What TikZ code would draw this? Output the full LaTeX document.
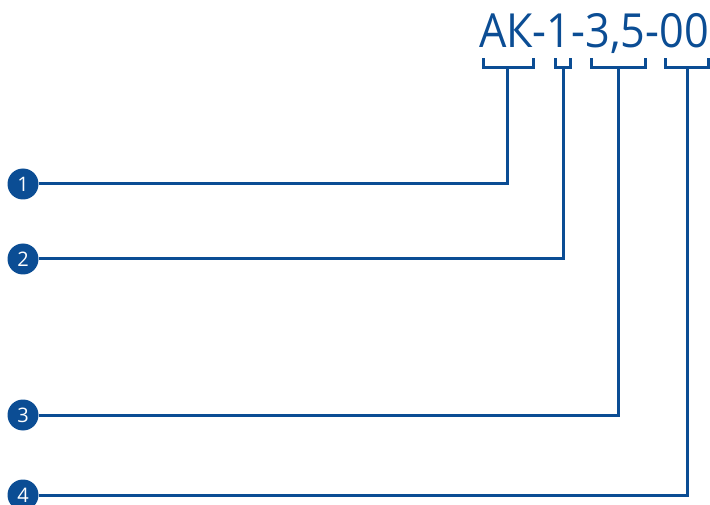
\documentclass[tikz,border=0pt]{standalone}
\usepackage{fontspec}
\setmainfont{Open Sans}
\usetikzlibrary{positioning,calc}
\definecolor{cBlueD}{HTML}{0B4D94}
\tikzset{
  num/.style  = {circle, fill=cBlueD, text=white, minimum size=31pt, inner sep=0pt,
                 font=\fontsize{20}{20}\selectfont},
  lead/.style = {cBlueD, line width=3pt},
  brak/.style = {cBlueD, line width=3pt, line cap=rect},
}

\begin{document}
\begin{tikzpicture}[x=1pt, y=-1pt]
  \useasboundingbox (0,0) rectangle (710,505);
  \node[cBlueD, anchor=base east, inner sep=0pt, xscale=0.92,
        font=\fontsize{47}{47}\selectfont] (code) at (709,48) {АК-1-3,5-00};
  % brackets under the code groups
  \draw[brak] (483,60) -- (483,68) -- (533,68) -- (533,60);
  \draw[brak] (555,60) -- (555,68) -- (570,68) -- (570,60);
  \draw[brak] (591,60) -- (591,68) -- (645,68) -- (645,60);
  \draw[brak] (665,60) -- (665,68) -- (708,68) -- (708,60);
  \coordinate (b1) at (507,68);
  \coordinate (b2) at (563,68);
  \coordinate (b3) at (618,68);
  \coordinate (b4) at (687,68);
  % numbered markers
  \node[num] (c1) at (23,184) {1};
  \node[num] (c2) at (23,259) {2};
  \node[num] (c3) at (23,415) {3};
  \node[num] (c4) at (23,495) {4};
  % leaders
  \draw[lead] (c1.east) -- (c1.east -| b1) -- (b1);
  \draw[lead] (c2.east) -- (c2.east -| b2) -- (b2);
  \draw[lead] (c3.east) -- (c3.east -| b3) -- (b3);
  \draw[lead] (c4.east) -- (c4.east -| b4) -- (b4);
\end{tikzpicture}
\end{document}
